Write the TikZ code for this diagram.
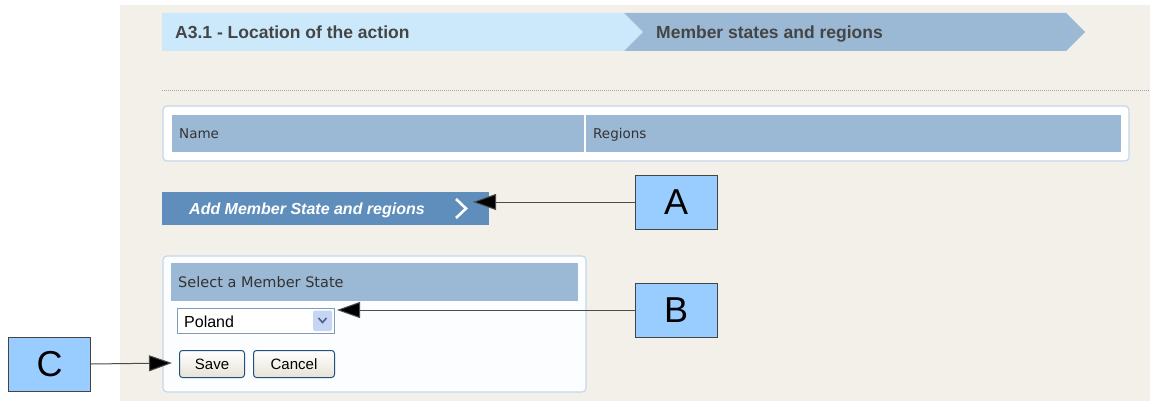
\documentclass[tikz,border=0pt]{standalone}
\usepackage{fontspec}
\setmainfont{Liberation Sans}
\newfontfamily\uifont{DejaVu Sans}
\usetikzlibrary{arrows.meta}

\definecolor{page}{HTML}{F3F0EA}
\definecolor{crumblight}{HTML}{CCE9FC}
\definecolor{crumbdark}{HTML}{9BB8D5}
\definecolor{crumbtext}{HTML}{454545}
\definecolor{headblue}{HTML}{9BB8D5}
\definecolor{panelline}{HTML}{C3D8EA}
\definecolor{panelfill}{HTML}{FBFDFE}
\definecolor{addblue}{HTML}{5F8EBD}
\definecolor{calloutfill}{HTML}{99CCFF}
\definecolor{calloutline}{HTML}{444444}
\definecolor{btnline}{HTML}{1F5080}
\definecolor{btnlow}{HTML}{E6E3D6}
\definecolor{selline}{HTML}{7F9DB9}
\definecolor{dropfill}{HTML}{C6D5F3}
\definecolor{droparrow}{HTML}{4D6185}

\newcommand{\fsz}[1]{\fontsize{#1}{#1}\selectfont}

\begin{document}
\begin{tikzpicture}[x=1pt,y=-1pt,
  crumbtext/.style={anchor=base west, inner sep=0pt, text=crumbtext, font=\fsz{17.5}\bfseries},
  uitext/.style={anchor=base west, inner sep=0pt, text=black!80, font=\uifont\fsz{13.5}},
  panel/.style={draw=panelline, line width=1.2pt, fill=panelfill, rounded corners=4pt},
  callout/.style={draw=calloutline, line width=1pt, fill=calloutfill,
    minimum width=82pt, minimum height=54pt, inner sep=0pt, font=\fsz{36}},
  link/.style={draw=black!70, line width=1pt, -{Triangle[length=23pt,width=16pt,fill=black]}},
  formbtn/.style={draw=btnline, line width=1pt, rounded corners=3pt,
    top color=white, bottom color=btnlow, inner sep=0pt, font=\fsz{15}},
]
\useasboundingbox (0,0) rectangle (1150,401);
\fill[white] (0,0) rectangle (1150,401);
\fill[page] (120,5) rectangle (1150,401);

% breadcrumb trail
\fill[crumblight] (162,13) -- (624,13) -- (643,32) -- (624,51) -- (162,51) -- cycle;
\fill[crumbdark] (624,13) -- (1066,13) -- (1085,32) -- (1066,51) -- (624,51) -- (643,32) -- cycle;
\node[crumbtext] (stepone) at (175,38.5) {A3.1 - Location of the action};
\node[crumbtext] (steptwo) at (656,38.5) {Member states and regions};

% separator
\draw[black!35, line width=1pt, dash pattern=on 1pt off 1pt] (162,91) -- (1150,91);

% table of member states
\draw[panel, fill=white] (163,106) rectangle (1129,161);
\fill[headblue] (172,115) rectangle (1121,152);
\draw[white, line width=1.5pt] (585,115) -- (585,152);
\node[uitext] (colname) at (179,138.5) {Name};
\node[uitext] (colregions) at (593,138.5) {Regions};

% add button
\node[fill=addblue, anchor=north west, minimum width=327pt, minimum height=33pt, inner sep=0pt] (add) at (162,192) {};
\node[anchor=base west, inner sep=0pt, text=white, font=\fsz{16}\bfseries\itshape] (addlabel) at (189,214.5) {Add Member State and regions};
\draw[white, line width=2.6pt] (456,199) -- (466,208.5) -- (456,218);

% member state selection panel
\draw[panel] (163,256) rectangle (586,392);
\fill[headblue] (171,263) rectangle (578,301);
\node[uitext, font=\uifont\fsz{14.5}] (selhead) at (178,287.5) {Select a Member State};
\node[draw=selline, line width=1pt, fill=white, anchor=north west, minimum width=157pt, minimum height=25pt, inner sep=0pt] (select) at (177,308) {};
\node[anchor=base west, inner sep=0pt, font=\fsz{16}] (selvalue) at (184,327) {Poland};
\fill[dropfill, rounded corners=2pt] (313,310.5) rectangle (332,331);
\draw[droparrow, line width=1.6pt] (318.5,318) -- (322.5,322.5) -- (326.5,318);
\node[formbtn, anchor=north west, minimum width=65pt, minimum height=27pt] (save) at (179,350) {Save};
\node[formbtn, anchor=north west, minimum width=81pt, minimum height=27pt] (cancel) at (253,350) {Cancel};

% callouts
\node[callout] (A) at (676,202) {A};
\node[callout] (B) at (676,310) {B};
\node[callout] (C) at (49.5,364) {C};
\coordinate (addtip) at (473,202);
\coordinate (selecttip) at (337,310);
\coordinate (savetip) at (172,363);
\draw[link] (A.west) -- (addtip);
\draw[link] (B.west) -- (selecttip);
\draw[link] (C.east) -- (savetip);
\end{tikzpicture}
\end{document}
